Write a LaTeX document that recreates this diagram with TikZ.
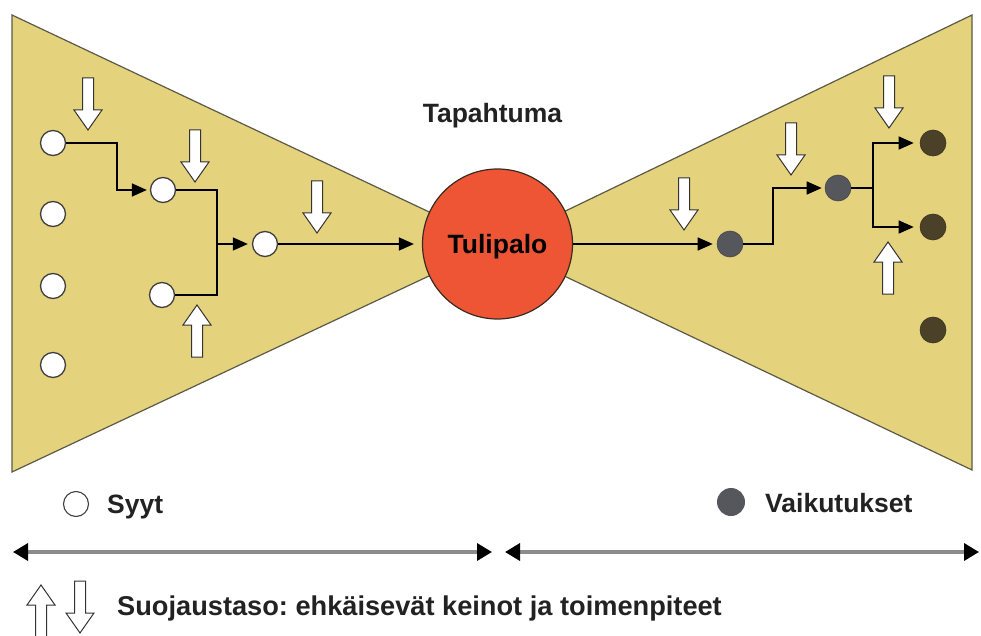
\documentclass[tikz,border=0pt]{standalone}
\usepackage{fontspec}
\setmainfont{Liberation Sans}
\usetikzlibrary{arrows.meta}
\frenchspacing
\definecolor{bowfill}{HTML}{E5D27C}
\definecolor{bowedge}{HTML}{5B5A47}
\definecolor{firefill}{HTML}{EE5535}
\definecolor{fireedge}{HTML}{3A2A20}
\definecolor{effgray}{HTML}{55575C}
\definecolor{effdark}{HTML}{4A4128}
\definecolor{txt}{HTML}{222222}
\definecolor{bargray}{HTML}{8C8C8C}
\tikzset{
  bow/.style={fill=bowfill, draw=bowedge, line width=1.2pt, line join=miter},
  cause/.style={circle, fill=white, draw=black!75, line width=1.3pt, minimum size=25pt, inner sep=0pt},
  effect/.style={circle, fill=effgray, draw=effgray!80!black, line width=0.6pt, minimum size=26pt, inner sep=0pt},
  final/.style={circle, fill=effdark, draw=effdark!80!black, line width=0.6pt, minimum size=26pt, inner sep=0pt},
  conn/.style={draw=black, line width=1.5pt, -{Triangle[length=15pt,width=13pt]}},
  plain/.style={draw=black, line width=1.5pt},
  lbl/.style={font=\fontsize{26.5}{30}\selectfont\bfseries, text=txt, inner sep=0pt},
  bar/.style={draw=bargray, line width=3.5pt, {Triangle[length=15pt,width=17pt,color=black]}-{Triangle[length=15pt,width=17pt,color=black]}},
  blk/.style={fill=white, draw=black!80, line width=1pt, line join=miter},
  downblk/.pic={\path[blk] (0,0) -- (-14,-20) -- (-5.5,-20) -- (-5.5,-52) -- (5.5,-52) -- (5.5,-20) -- (14,-20) -- cycle;},
  upblk/.pic={\path[blk] (0,0) -- (-14,20) -- (-5.5,20) -- (-5.5,52) -- (5.5,52) -- (5.5,20) -- (14,20) -- cycle;}
}
\begin{document}
\begin{tikzpicture}[x=1pt,y=-1pt]
\useasboundingbox (0,0) rectangle (981,636);
% bow-tie wedges
\path[bow] (12,15) -- (497,244) -- (12,472) -- cycle;
\path[bow] (972,15) -- (497,244) -- (972,470) -- cycle;
% central event
\node[circle, fill=firefill, draw=fireedge, line width=1.2pt, minimum size=150pt, inner sep=0pt] (ev) at (497.5,244) {};
\node[lbl, text=black, anchor=base] (evt) at (497.5,253) {Tulipalo};
\node[lbl, anchor=base] (tap) at (492.5,123) {Tapahtuma};
% causes
\node[cause] (c1) at (53,143) {};
\node[cause] (c4) at (53,214) {};
\node[cause] (c5) at (53,286) {};
\node[cause] (c6) at (53,365) {};
\node[cause] (c2a) at (163,190) {};
\node[cause] (c2b) at (162,295) {};
\node[cause] (c3) at (265,244) {};
% effects
\node[effect] (e1) at (730,244) {};
\node[effect] (e2) at (838,188) {};
\node[final] (f1) at (933,143) {};
\node[final] (f2) at (933,227) {};
\node[final] (f3) at (933,330) {};
% junctions
\coordinate (j1) at (217,244);
\coordinate (j2) at (873,188);
% connectors left
\draw[conn, shorten >=3pt] (c1.east) -| (117,170) |- (c2a.west);
\draw[plain] (c2a.east) -| (j1);
\draw[plain] (c2b.east) -| (j1);
\draw[conn, shorten >=4pt] (j1) -- (c3.west);
\draw[conn, shorten >=8pt] (c3.east) -- (ev.west);
% connectors right
\draw[conn, shorten >=4pt] (ev.east) -- (e1.west);
\draw[conn, shorten >=3pt] (e1.east) -| (773,215) |- (e2.west);
\draw[plain] (e2.east) -- (j2);
\draw[conn, shorten >=6pt] (j2) |- (f1.west);
\draw[conn, shorten >=6pt] (j2) |- (f2.west);
% barrier arrows
\pic at (88,130) {downblk};
\pic at (195,182) {downblk};
\pic at (317,233) {downblk};
\pic at (197,305) {upblk};
\pic at (684,230) {downblk};
\pic at (791,175) {downblk};
\pic at (889,128) {downblk};
\pic at (888,242) {upblk};
% legend
\node[cause, line width=1.1pt] (lc) at (76,504) {};
\node[lbl, anchor=base west] (syyt) at (107,513) {Syyt};
\node[circle, fill=effgray, minimum size=28pt, inner sep=0pt] (le) at (731,502) {};
\node[lbl, anchor=base west] (vaik) at (765,512) {Vaikutukset};
\coordinate (b1) at (13,552);
\coordinate (b2) at (492,552);
\coordinate (b3) at (505,552);
\coordinate (b4) at (979,552);
\draw[bar] (b1) -- (b2);
\draw[bar] (b3) -- (b4);
\pic at (41,585) {upblk};
\pic at (80,633) {downblk};
\node[lbl, font=\fontsize{27.2}{30}\selectfont\bfseries, anchor=base west] (suoj) at (117,615) {Suojaustaso: ehkäisevät keinot ja toimenpiteet};
\end{tikzpicture}
\end{document}
